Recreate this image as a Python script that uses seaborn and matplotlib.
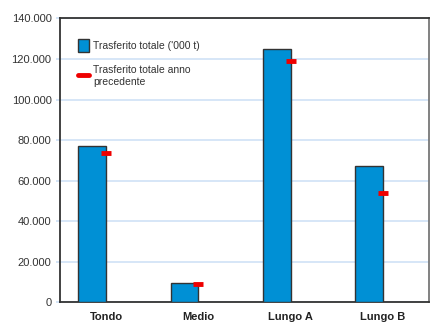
import numpy as np
import pandas as pd
import matplotlib
matplotlib.use("Agg")
import matplotlib.pyplot as plt
import seaborn as sns
from matplotlib.patches import Patch
from matplotlib.lines import Line2D
from matplotlib.ticker import FuncFormatter, MultipleLocator

categories = ["Tondo", "Medio", "Lungo A", "Lungo B"]
current = [77200, 9400, 125000, 67300]
previous = [73700, 8800, 118900, 53800]
label_cur = "Trasferito totale ('000 t)"
label_prev = "Trasferito totale anno\nprecedente"

sns.set_theme(style="white")
plt.rcParams['font.family'] = ['Liberation Sans', 'DejaVu Sans']

fig = plt.figure(figsize=(4.37, 3.23), dpi=100)
ax = fig.add_axes([0.137, 0.064, 0.845, 0.879])

df = pd.DataFrame({"categoria": categories, "serie": label_cur, "valore": current})
sns.barplot(data=df, x="categoria", y="valore", hue="serie",
            hue_order=[label_cur, label_prev],
            palette={label_cur: "#0090d5", label_prev: "#ee0000"},
            saturation=1, width=0.6, dodge=True, edgecolor="#333333", linewidth=1.0,
            legend=False, ax=ax, zorder=3)

sns.scatterplot(x=np.arange(len(categories)), y=previous, marker="_", s=55,
                linewidth=3.5, color="#ee0000", ax=ax, zorder=4, legend=False)

ax.set_xlim(-0.5, len(categories) - 0.5)
ax.set_ylim(0, 140000)
ax.yaxis.set_major_locator(MultipleLocator(20000))
ax.yaxis.set_major_formatter(FuncFormatter(lambda v, p: f"{v:,.0f}".replace(",", ".")))
ax.grid(axis="y", color="#cfe2f6", linewidth=1.2, zorder=0)
ax.set_xlabel("")
ax.set_ylabel("")
ax.tick_params(axis="y", left=True, length=3, color="#cfe2f6", labelsize=8,
               labelcolor="#333333", pad=3)
ax.tick_params(axis="x", bottom=False, labelsize=8, labelcolor="#222222", pad=1)
for lbl in ax.get_xticklabels():
    lbl.set_fontweight("bold")
for side in ["left", "bottom", "top"]:
    ax.spines[side].set_color("#333333")
    ax.spines[side].set_linewidth(1.3)
ax.spines["right"].set_color("#777777")
ax.spines["right"].set_linewidth(1.3)

handles = [Patch(facecolor="#0090d5", edgecolor="#333333", linewidth=1.0),
           Line2D([0], [0], color="#ee0000", linewidth=3.5)]
ax.legend(handles, [label_cur, label_prev], loc="upper left",
          bbox_to_anchor=(0.025, 0.96), frameon=False, fontsize=7.5,
          handlelength=1.0, handleheight=1.5, handletextpad=0.4,
          labelspacing=1.3, labelcolor="#333333")

fig.savefig("out.png", dpi=100)
